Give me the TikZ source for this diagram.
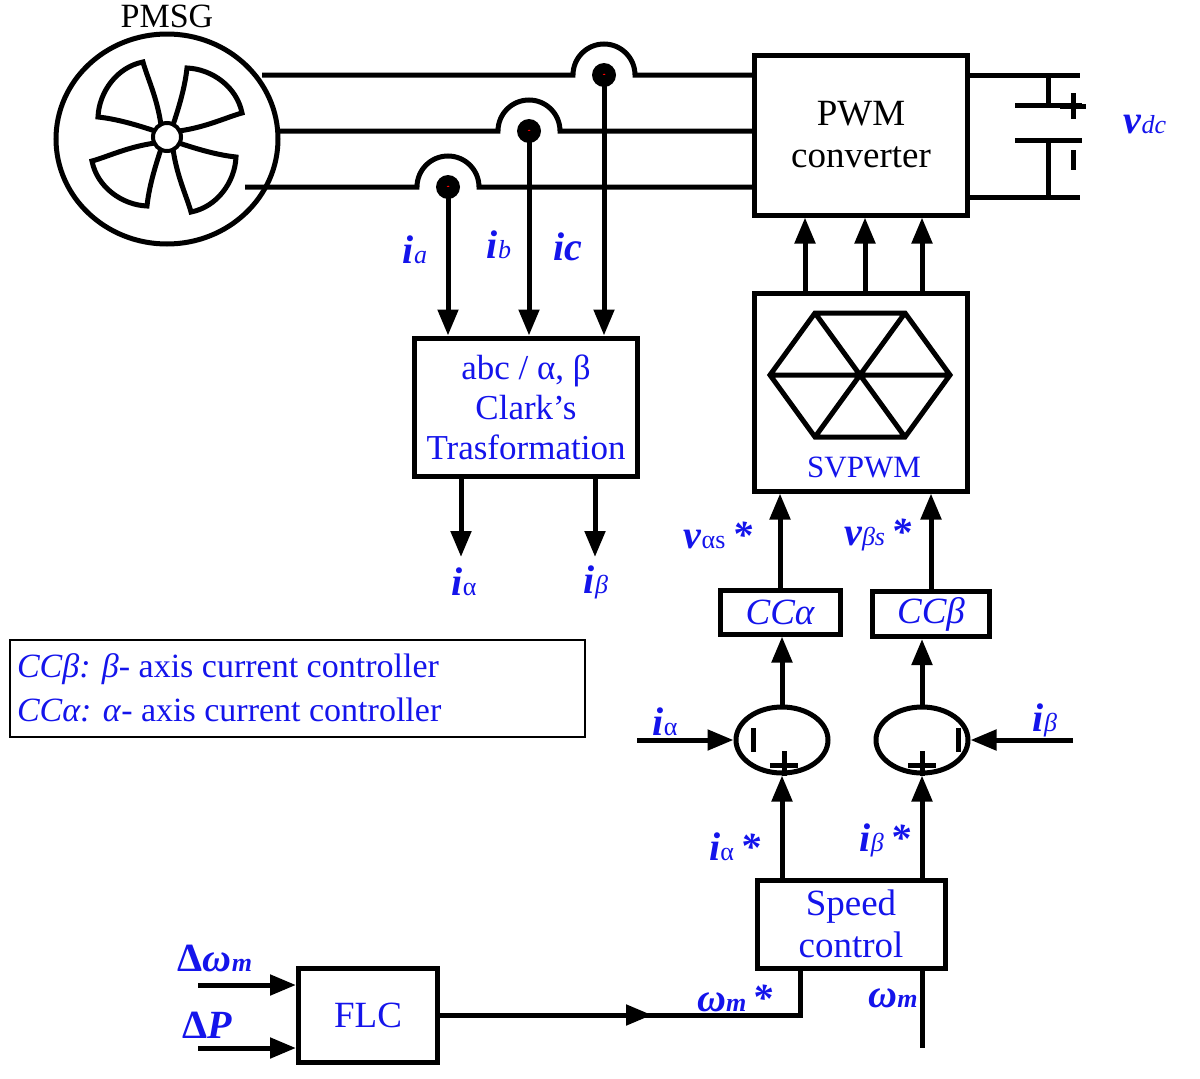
\documentclass[tikz,border=0pt]{standalone}
\usepackage{fontspec}
\setmainfont{Liberation Serif}
\usetikzlibrary{arrows.meta,positioning,shapes.geometric}
\definecolor{lblue}{RGB}{20,20,235}
\newcommand{\sub}[1]{{\fontsize{26}{26}\selectfont\mdseries #1}}
\tikzset{
  wire/.style={line width=5pt},
  arr/.style={wire,-{Triangle[length=26pt,width=20pt]}},
  blk/.style={draw,line width=5pt,inner sep=0pt,align=center,font=\fontsize{37}{42}\selectfont},
  lbl/.style={text=lblue,font=\fontsize{40}{40}\selectfont\bfseries\itshape}
}
\begin{document}
\begin{tikzpicture}[x=1pt,y=-1pt]
\useasboundingbox (0,0) rectangle (1200,1079);

% generator
\node[draw,wire,ellipse,minimum width=222pt,minimum height=210pt,inner sep=0pt] (gen) at (167,139) {};
\node[font=\fontsize{34}{34}\selectfont] (genlbl) at (167,16) {PMSG};
\foreach \a in {0,90,180,270}
  \draw[line width=5pt,shift={(167,137)},rotate=\a]
    (-6,-12) .. controls (-10,-40) and (-20,-60) .. (-24,-75)
    .. controls (-50,-70) and (-68,-45) .. (-69,-20)
    .. controls (-50,-18) and (-30,-12) .. (-12,-6);
\node[draw,line width=4pt,circle,fill=white,minimum size=28pt,inner sep=0pt] (hub) at (167,137) {};

% converter and dc link
\node[blk,minimum width=213pt,minimum height=160pt] (pwm) at (861,135) {PWM\\converter};
\coordinate (dct) at (1080,75);
\coordinate (dcb) at (1080,197);
\draw[wire] (pwm.east |- dct) -- (dct);
\draw[wire] (pwm.east |- dcb) -- (dcb);
\draw[wire] (1048,75) -- (1048,105) (1015,105) -- (1082,105)
            (1015,140) -- (1082,140) (1048,140) -- (1048,197);
\draw[line width=5pt] (1060,106) -- (1086,106) (1073,93) -- (1073,119);
\draw[line width=5pt] (1073,150) -- (1073,170);
\node[lbl] (vdc) at (1145,125) {v\sub{\itshape dc}};

% phase lines with hops and sensors
\foreach \y/\h/\s/\n in {75/604/262/c,131/529/278/b,187/448/245/a} {
  \draw[wire] (\s,\y) -- ({\h-31},\y) arc[start angle=180,end angle=360,radius=31] -- (pwm.west |- 0,\y);
  \fill (\h,\y) circle (12pt);
  \fill[red] (\h,\y) circle (1.5pt);
  \coordinate (s\n) at (\h,\y);
}

% Clark transformation
\node[blk,minimum width=223pt,minimum height=138pt,text=lblue,font=\fontsize{35}{40}\selectfont] (clark) at (526,407) {abc / α, β\\Clark’s\\Trasformation};
\draw[arr] (sa) -- (sa |- clark.north);
\draw[arr] (sb) -- (sb |- clark.north);
\draw[arr] (sc) -- (sc |- clark.north);
\node[lbl] (ia) at (415,250) {i\sub{\itshape a}};
\node[lbl] (ib) at (499,245) {i\sub{\itshape b}};
\node[lbl] (ic) at (568,247) {ic};
\coordinate (oa) at (461,557);
\coordinate (ob) at (595,557);
\draw[arr] (oa |- clark.south) -- (oa);
\draw[arr] (ob |- clark.south) -- (ob);
\node[lbl] (ialo) at (464,582) {i\sub{\upshape α}};
\node[lbl] (iblo) at (596,582) {i\sub{β}};

% SVPWM
\node[blk,minimum width=213pt,minimum height=198pt] (svm) at (861,392) {};
\node[text=lblue,font=\fontsize{31}{31}\selectfont] (svmlbl) at (864,467) {SVPWM};
\draw[line width=5pt] (770,375) -- (815,313) -- (905,313) -- (950,375) -- (905,437) -- (815,437) -- cycle
  (770,375) -- (950,375) (815,313) -- (905,437) (905,313) -- (815,437);
\foreach \x in {805,865,922}
  \draw[arr] (\x,0 |- svm.north) -- (\x,0 |- pwm.south);

% current controllers
\node[blk,minimum width=120pt,minimum height=44pt,text=lblue] (cca) at (780,612) {\itshape CCα};
\node[blk,minimum width=117pt,minimum height=45pt,text=lblue] (ccb) at (931,614) {\itshape CCβ};
\draw[arr] (cca.north) -- (cca.north |- svm.south);
\draw[arr] (ccb.north) -- (ccb.north |- svm.south);
\node[lbl] (va) at (718,535) {v\sub{\upshape αs}\,*};
\node[lbl] (vb) at (878,535) {v\sub{βs}\,*};

% summing junctions
\node[draw,wire,ellipse,minimum width=92pt,minimum height=66pt] (suma) at (782,740) {};
\node[draw,wire,ellipse,minimum width=92pt,minimum height=66pt] (sumb) at (922,740) {};
\draw[arr] (suma.north) -- (cca.south -| suma.north);
\draw[arr] (sumb.north) -- (ccb.south -| sumb.north);
\draw[line width=5pt] (753,728) -- (753,752) (770,765) -- (798,765) (784,751) -- (784,776) (958,728) -- (958,752);
\draw[line width=5pt] (908,765) -- (936,765) (922,751) -- (922,776);
\coordinate (ina) at (637,740);
\coordinate (inb) at (1073,740);
\draw[arr] (ina) -- (suma.west);
\draw[arr] (inb) -- (sumb.east);
\node[lbl] (iain) at (665,722) {i\sub{\upshape α}};
\node[lbl] (ibin) at (1045,720) {i\sub{β}};

% legend
\node[draw,line width=2pt,minimum width=575pt,minimum height=97pt,text=lblue,align=flush left,
  text width=560pt,font=\fontsize{34}{44}\selectfont] (legend) at (297,688)
  {\textit{CCβ: β}- axis current controller\\\textit{CCα: α}- axis current controller};

% speed control
\node[blk,minimum width=188pt,minimum height=88pt,text=lblue] (spd) at (851,924) {Speed\\control};
\draw[arr] (spd.north -| suma.south) -- (suma.south);
\draw[arr] (spd.north -| sumb.south) -- (sumb.south);
\node[lbl] (iar) at (735,847) {i\sub{\upshape α}\,*};
\node[lbl] (ibr) at (885,840) {i\sub{β}\,*};
\coordinate (wm) at (922,1048);
\draw[wire] (spd.south -| wm) -- (wm);
\node[lbl] (wmlbl) at (893,998) {ω\sub{\bfseries m}};

% fuzzy logic controller
\node[blk,minimum width=139pt,minimum height=94pt,text=lblue] (flc) at (368,1015) {FLC};
\coordinate (wref) at (800,1015);
\draw[wire] (flc.east) -- (wref) -- (wref |- spd.south);
\draw[arr] (flc.east) -- (652,1015);
\node[lbl] (wmref) at (735,998) {ω\sub{\bfseries m}\,*};
\coordinate (dw) at (198,985);
\coordinate (dp) at (198,1048);
\draw[arr] (dw) -- (dw -| flc.west);
\draw[arr] (dp) -- (dp -| flc.west);
\node[lbl] (dwlbl) at (215,958) {\upshape Δ\itshape ω\sub{\bfseries m}};
\node[lbl] (dplbl) at (207,1025) {\upshape Δ\itshape P};
\end{tikzpicture}
\end{document}
